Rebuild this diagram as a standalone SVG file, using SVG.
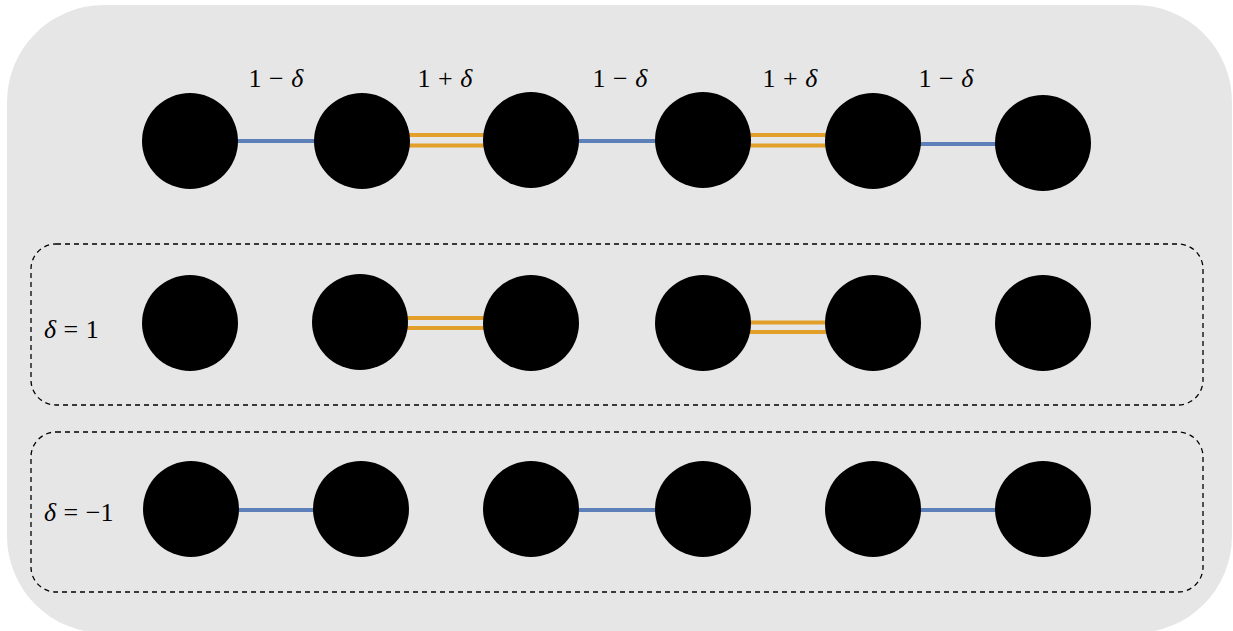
<svg xmlns="http://www.w3.org/2000/svg" width="1233" height="631" viewBox="0 0 1233 631">
<style>
.node{fill:#000}
.blue{stroke:#5E80B8;stroke-width:4;fill:none}
.orange{stroke:#E2A02A;stroke-width:4;fill:none}
.box{fill:none;stroke:#000;stroke-width:1.3;stroke-dasharray:5 4}
.lbl{font-family:"Liberation Serif","DejaVu Serif",serif;font-size:26px;fill:#000;word-spacing:1px}
.it{font-style:italic}
</style>
<rect x="7" y="5" width="1225" height="628" rx="97" fill="#E6E6E6"/>
<g id="frames">
<rect class="box" x="31" y="244" width="1172" height="161" rx="25"/>
<rect class="box" x="31" y="432" width="1172" height="160" rx="25"/>
</g>
<g id="connectors">
<line class="blue" x1="230" y1="141" x2="320" y2="141"/>
<line class="orange" x1="400" y1="135" x2="490" y2="135"/>
<line class="orange" x1="400" y1="145.5" x2="490" y2="145.5"/>
<line class="blue" x1="570" y1="141" x2="660" y2="141"/>
<line class="orange" x1="740" y1="135" x2="830" y2="135"/>
<line class="orange" x1="740" y1="145.5" x2="830" y2="145.5"/>
<line class="blue" x1="910" y1="144" x2="1000" y2="144"/>
<line class="orange" x1="400" y1="318" x2="490" y2="318"/>
<line class="orange" x1="400" y1="328" x2="490" y2="328"/>
<line class="orange" x1="740" y1="322.5" x2="830" y2="322.5"/>
<line class="orange" x1="740" y1="332" x2="830" y2="332"/>
<line class="blue" x1="230" y1="510" x2="320" y2="510"/>
<line class="blue" x1="570" y1="510" x2="660" y2="510"/>
<line class="blue" x1="910" y1="510" x2="1000" y2="510"/>
</g>
<g id="labels">
<text class="lbl" x="276" y="87" text-anchor="middle">1 − <tspan class="it">δ</tspan></text>
<text class="lbl" x="445" y="87" text-anchor="middle">1 + <tspan class="it">δ</tspan></text>
<text class="lbl" x="620" y="87" text-anchor="middle">1 − <tspan class="it">δ</tspan></text>
<text class="lbl" x="790" y="87" text-anchor="middle">1 + <tspan class="it">δ</tspan></text>
<text class="lbl" x="946" y="87" text-anchor="middle">1 − <tspan class="it">δ</tspan></text>
<text class="lbl" x="44" y="338"><tspan class="it">δ</tspan> = 1</text>
<text class="lbl" x="44" y="521"><tspan class="it">δ</tspan> = −1</text>
</g>
<g id="row1">
<circle id="r1n1" class="node" cx="190" cy="141" r="48"/>
<circle id="r1n2" class="node" cx="362" cy="141" r="48"/>
<circle id="r1n3" class="node" cx="531" cy="140" r="48"/>
<circle id="r1n4" class="node" cx="703" cy="140" r="48"/>
<circle id="r1n5" class="node" cx="873" cy="141" r="48"/>
<circle id="r1n6" class="node" cx="1043" cy="143" r="48"/>
</g>
<g id="row2">
<circle id="r2n1" class="node" cx="190" cy="323" r="48"/>
<circle id="r2n2" class="node" cx="360" cy="322" r="48"/>
<circle id="r2n3" class="node" cx="531" cy="323" r="48"/>
<circle id="r2n4" class="node" cx="703" cy="323" r="48"/>
<circle id="r2n5" class="node" cx="873" cy="323" r="48"/>
<circle id="r2n6" class="node" cx="1043" cy="323" r="48"/>
</g>
<g id="row3">
<circle id="r3n1" class="node" cx="191" cy="509" r="48"/>
<circle id="r3n2" class="node" cx="361" cy="509" r="48"/>
<circle id="r3n3" class="node" cx="531" cy="509" r="48"/>
<circle id="r3n4" class="node" cx="703" cy="509" r="48"/>
<circle id="r3n5" class="node" cx="873" cy="509" r="48"/>
<circle id="r3n6" class="node" cx="1043" cy="509" r="48"/>
</g>
</svg>
